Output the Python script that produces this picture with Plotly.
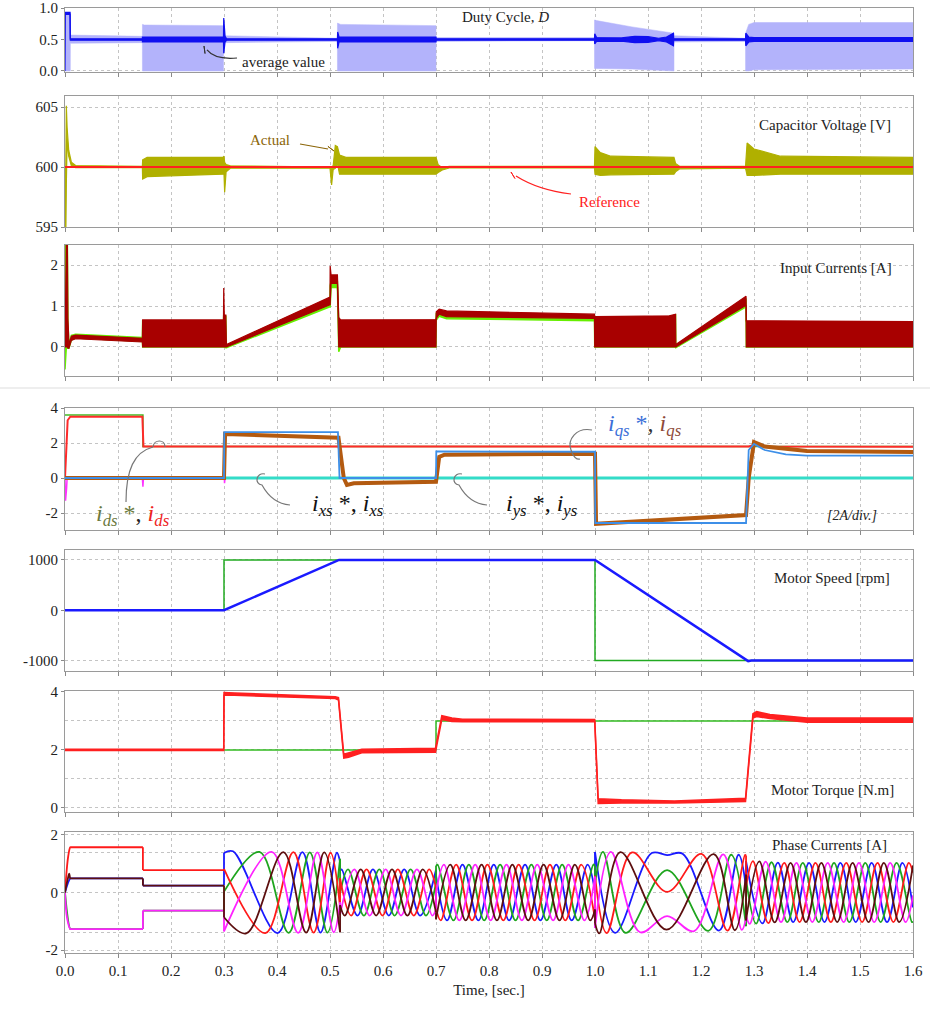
import plotly.graph_objects as go

FONT = "Liberation Serif"

# ---------------- data ----------------
time_ticks = [0.0, 0.1, 0.2, 0.3, 0.4, 0.5, 0.6, 0.7, 0.8, 0.9, 1.0, 1.1, 1.2, 1.3, 1.4, 1.5, 1.6]

# Duty cycle: switching envelope (light) and average value (dark)
duty_env_t  = [0.0, 0.010, 0.0101, 0.146, 0.1461, 0.150, 0.299, 0.2991, 0.514, 0.5141, 0.520, 0.700, 0.7001, 0.999, 0.9991, 1.003, 1.070, 1.149, 1.1491, 1.284, 1.2841, 1.290, 1.300, 1.600]
duty_env_lo = [0.0, 0.0, 0.44, 0.45, 0.0, 0.0, 0.0, 0.45, 0.47, 0.0, 0.0, 0.0, 0.47, 0.48, 0.04, 0.04, 0.03, 0.0, 0.46, 0.47, 0.0, 0.0, 0.02, 0.03]
duty_env_hi = [0.92, 0.92, 0.57, 0.55, 0.74, 0.73, 0.72, 0.56, 0.52, 0.76, 0.74, 0.72, 0.53, 0.53, 0.81, 0.80, 0.70, 0.60, 0.56, 0.52, 0.60, 0.74, 0.77, 0.77]
duty_avg_t  = [0.0, 0.0005, 0.0095, 0.0096, 0.0100, 0.146, 0.1461, 0.299, 0.2995, 0.302, 0.305, 0.514, 0.5145, 0.517, 0.700, 0.7005, 0.999, 0.9995, 1.003, 1.050, 1.075, 1.100, 1.120, 1.135, 1.148, 1.1485, 1.284, 1.2845, 1.290, 1.300, 1.600]
duty_avg_lo = [0.0, 0.90, 0.90, 0.49, 0.49, 0.49, 0.46, 0.46, 0.28, 0.46, 0.49, 0.49, 0.36, 0.46, 0.46, 0.49, 0.49, 0.43, 0.47, 0.475, 0.45, 0.455, 0.48, 0.46, 0.40, 0.49, 0.49, 0.40, 0.46, 0.47, 0.47]
duty_avg_hi = [0.93, 0.93, 0.93, 0.93, 0.51, 0.51, 0.54, 0.54, 0.84, 0.55, 0.51, 0.51, 0.62, 0.54, 0.54, 0.51, 0.51, 0.59, 0.53, 0.525, 0.55, 0.545, 0.52, 0.54, 0.60, 0.51, 0.51, 0.60, 0.54, 0.53, 0.53]

# Capacitor voltage [V]
vc_t  = [0.0, 0.0015, 0.0025, 0.004, 0.007, 0.012, 0.020, 0.146, 0.1465, 0.155, 0.298, 0.300, 0.3012, 0.304, 0.312, 0.500, 0.503, 0.506, 0.510, 0.514, 0.518, 0.530, 0.700, 0.704, 0.712, 0.725, 0.999, 1.000, 1.010, 1.030, 1.149, 1.152, 1.160, 1.284, 1.287, 1.300, 1.350, 1.600]
vc_lo = [600.0, 594.0, 598.5, 602.3, 600.9, 600.1, 599.95, 599.95, 599.0, 599.2, 599.4, 599.4, 597.9, 599.6, 599.9, 599.9, 598.5, 599.8, 599.9, 600.3, 599.4, 599.4, 599.4, 599.55, 599.75, 599.92, 599.92, 599.4, 599.3, 599.35, 599.4, 599.6, 599.85, 599.9, 599.3, 599.3, 599.4, 599.4]
vc_hi = [600.0, 600.0, 605.1, 603.3, 601.4, 600.4, 600.12, 600.05, 600.6, 600.8, 600.8, 600.9, 600.4, 600.2, 600.1, 600.05, 600.0, 600.1, 601.8, 601.7, 601.0, 600.8, 600.8, 600.2, 599.95, 600.05, 600.05, 601.7, 601.2, 600.9, 600.8, 600.3, 600.05, 600.05, 602.0, 601.5, 600.9, 600.8]
vc_ref_t = [0.0, 1.6]
vc_ref   = [600.0, 600.0]

# Input currents [A]: two sources (dark red on top of green)
iin_t   = [0.0, 0.0025, 0.0045, 0.0055, 0.0075, 0.012, 0.020, 0.146, 0.1465, 0.299, 0.2995, 0.3005, 0.3035, 0.3045, 0.500, 0.5003, 0.502, 0.514, 0.5165, 0.520, 0.700, 0.7005, 0.706, 0.720, 0.999, 0.9995, 1.140, 1.152, 1.1525, 1.285, 1.2855, 1.600]
iin1_lo = [0.0, 0.0, 0.0, -0.03, -0.03, 0.16, 0.20, 0.12, 0.0, 0.0, 0.0, 0.0, 0.0, 0.0, 1.03, 1.03, 1.55, 1.55, 0.0, 0.0, 0.0, 0.70, 0.80, 0.74, 0.70, 0.0, 0.0, 0.0, 0.0, 1.02, 0.0, 0.0]
iin1_hi = [0.0, 2.50, 2.50, 0.70, 0.05, 0.26, 0.29, 0.21, 0.66, 0.66, 1.44, 0.78, 0.78, 0.06, 1.22, 1.98, 1.76, 1.76, 0.72, 0.66, 0.67, 0.86, 0.92, 0.88, 0.80, 0.74, 0.76, 0.80, 0.06, 1.24, 0.64, 0.62]
iin2_lo = [-0.55, 0.0, 0.0, -0.03, -0.03, 0.17, 0.22, 0.14, 0.0, 0.0, 0.0, 0.0, -0.02, -0.02, 0.98, 0.98, 1.45, 1.45, -0.12, 0.0, 0.0, 0.66, 0.75, 0.69, 0.64, 0.0, 0.0, 0.0, -0.02, 0.98, 0.0, 0.0]
iin2_hi = [2.50, 2.50, 2.50, 0.60, 0.05, 0.28, 0.31, 0.23, 0.64, 0.64, 0.80, 0.75, 0.75, 0.02, 1.17, 1.50, 1.60, 1.60, 0.60, 0.64, 0.64, 0.82, 0.88, 0.84, 0.76, 0.72, 0.74, 0.78, 0.03, 1.18, 0.62, 0.60]

# d-q-x-y currents [A]
ids_ref_t = [0.0, 0.147, 0.147, 1.6]
ids_ref   = [3.6, 3.6, 1.8, 1.8]
ids_t = [0.0, 0.003, 0.005, 0.010, 0.146, 0.148, 1.290, 1.300, 1.330, 1.600]
ids   = [0.0, 2.5, 3.3, 3.5, 3.5, 1.8, 1.8, 1.88, 1.8, 1.78]
iqs_ref_t = [0.0, 0.300, 0.3005, 0.515, 0.518, 0.700, 0.7005, 1.000, 1.0005, 1.285, 1.290, 1.300, 1.320, 1.360, 1.400, 1.600]
iqs_ref   = [0.0, 0.0, 2.62, 2.62, 0.0, 0.0, 1.52, 1.50, -2.57, -2.57, 1.6, 1.95, 1.6, 1.35, 1.28, 1.28]
iqs_t = [0.0, 0.300, 0.302, 0.510, 0.516, 0.526, 0.532, 0.545, 0.700, 0.706, 0.716, 1.000, 1.002, 1.285, 1.290, 1.300, 1.320, 1.400, 1.600]
iqs   = [0.0, 0.0, 2.52, 2.36, 2.30, 0.0, -0.40, -0.30, -0.22, 1.20, 1.33, 1.38, -2.62, -2.12, 0.0, 2.05, 1.80, 1.55, 1.48]
ixy_t = [0.0, 1.6]
ixy   = [0.0, 0.0]
spike_t = [0.0, 0.001, 0.003, 0.004, 0.146, 0.147, 0.148, 0.299, 0.300, 0.301, 0.302, 0.999, 1.000, 1.001, 1.002, 1.6]
spike   = [0.0, -1.3, -0.6, 0.0, 0.0, -0.5, 0.0, 0.0, 0.9, -0.3, 0.0, 0.0, 0.7, -0.2, 0.0, 0.0]

# Motor speed [rpm]
spd_ref_t = [0.0, 0.3, 0.3, 1.0, 1.0, 1.6]
spd_ref   = [0, 0, 1000, 1000, -1000, -1000]
spd_t = [0.0, 0.300, 0.517, 1.000, 1.289, 1.295, 1.600]
spd   = [0, 0, 1000, 1000, -1012, -1000, -1000]

# Motor torque [N.m]
tq_ref_t = [0.0, 0.7, 0.7, 1.6]
tq_ref   = [2.0, 2.0, 3.0, 3.0]
tq_t  = [0.0, 0.2995, 0.300, 0.320, 0.510, 0.516, 0.526, 0.535, 0.560, 0.699, 0.711, 0.730, 0.750, 0.9995, 1.006, 1.050, 1.150, 1.284, 1.298, 1.305, 1.330, 1.400, 1.600]
tq_lo = [1.98, 1.98, 3.88, 3.88, 3.77, 3.72, 1.72, 1.75, 1.90, 1.92, 3.05, 2.98, 2.97, 2.97, 0.15, 0.17, 0.17, 0.22, 3.10, 3.15, 3.08, 2.95, 2.95]
tq_hi = [2.02, 2.02, 3.98, 3.96, 3.83, 3.80, 1.85, 1.90, 2.02, 2.06, 3.18, 3.10, 3.06, 3.05, 0.32, 0.28, 0.24, 0.33, 3.25, 3.32, 3.22, 3.10, 3.10]

# Phase currents [A]: peaks/troughs of each phase, time in ms (None = step between intervals)
ia_ms = [0, 6, 10, 12, 147, None, 147, 300, None, 300, 378, 431, 469, 501, 519, None, 519, 540, 569, 599, 628, 658, 687, 700, None, 700, 709, 738, 768, 797, 827, 856, 886, 915, 944, 974, 1000, None, 1000, 1022, 1070, 1136, 1201, 1250, 1283, 1285, None, 1285, 1298, 1327, 1357, 1386, 1416, 1445, 1474, 1504, 1533, 1563, 1592, 1600]
ia    = [0, 1.25, 1.57, 1.57, 1.57, None, 0.78, 0.78, None, 0.82, -1.41, 1.40, -1.39, 1.38, -0.51, None, 0.50, -0.80, 0.80, -0.80, 0.80, -0.80, 0.80, 0.16, None, -0.55, -0.97, 0.97, -0.97, 0.97, -0.97, 0.97, -0.97, 0.97, -0.97, 0.97, -0.92, None, 0.58, -1.41, 1.39, 0.02, 1.34, -1.32, 1.30, 1.28, None, 0.20, 1.09, -1.06, 1.03, -1.03, 1.03, -1.03, 1.03, -1.03, 1.03, -1.03, 1.03, 0.69]
ib_ms = [0, 10, 12, 147, None, 147, 300, None, 300, 317, 401, 448, 482, 513, 519, None, 519, 522, 552, 581, 611, 640, 670, 700, None, 700, 721, 750, 780, 809, 838, 868, 897, 927, 956, 986, 1000, None, 1000, 1038, 1107, 1136, 1165, 1234, 1271, 1285, None, 1285, 1316, 1345, 1374, 1404, 1433, 1463, 1492, 1522, 1551, 1580, 1600]
ib    = [0, 0.49, 0.49, 0.49, None, 0.24, 0.24, None, 1.37, 1.43, -1.41, 1.40, -1.39, 1.38, 1.06, None, 0.75, 0.80, -0.80, 0.80, -0.80, 0.80, -0.80, 0.79, None, 0.59, -0.97, 0.97, -0.97, 0.97, -0.97, 0.97, -0.97, 0.97, -0.97, 0.97, 0.02, None, 1.41, -1.40, 1.37, 1.30, 1.35, -1.32, 1.31, 0.17, None, 1.09, -1.07, 1.04, -1.03, 1.03, -1.03, 1.03, -1.03, 1.03, -1.03, 1.03, -0.52]
ic_ms = [0, 10, 12, 147, None, 147, 300, None, 300, 367, 422, 462, 495, 519, None, 519, 534, 564, 593, 622, 652, 681, 700, None, 700, 703, 733, 762, 791, 821, 850, 880, 909, 938, 968, 997, 1000, None, 1000, 1015, 1058, 1136, 1214, 1257, 1285, None, 1285, 1304, 1333, 1363, 1392, 1422, 1451, 1480, 1510, 1539, 1569, 1598, 1600]
ic    = [0, -1.27, -1.27, -1.27, None, -0.63, -0.63, None, 0.03, 1.41, -1.40, 1.39, -1.39, 1.17, None, -0.04, 0.80, -0.80, 0.80, -0.80, 0.80, -0.80, 0.33, None, 0.92, 0.97, -0.97, 0.97, -0.97, 0.97, -0.97, 0.97, -0.97, 0.97, -0.97, 0.97, 0.93, None, 0.30, 1.41, -1.40, 0.78, -1.33, 1.31, -1.17, None, 0.47, -1.08, 1.05, -1.03, 1.03, -1.03, 1.03, -1.03, 1.03, -1.03, 1.03, -1.03, -1.01]
id_ms = [0, 4, 10, 12, 147, None, 147, 300, None, 300, 390, 440, 476, 507, 519, None, 519, 546, 575, 605, 634, 664, 693, 700, None, 700, 715, 744, 774, 803, 833, 862, 891, 921, 950, 980, 1000, None, 1000, 1030, 1085, 1136, 1187, 1242, 1277, 1285, None, 1285, 1292, 1322, 1351, 1380, 1410, 1439, 1469, 1498, 1527, 1557, 1586, 1600]
id_   = [0, -0.9, -1.27, -1.27, -1.27, None, -0.63, -0.63, None, -1.35, 1.41, -1.40, 1.39, -1.38, -0.34, None, -0.77, 0.80, -0.80, 0.80, -0.80, 0.80, -0.80, -0.59, None, -0.02, 0.97, -0.97, 0.97, -0.97, 0.97, -0.97, 0.97, -0.97, 0.97, -0.97, 0.55, None, -1.23, 1.41, -1.38, -0.82, -1.34, 1.32, -1.30, -0.89, None, -0.80, -1.09, 1.07, -1.03, 1.03, -1.03, 1.03, -1.03, 1.03, -1.03, 1.03, -1.03, -0.10]
ie_ms = [0, 5, 8, 10, 12, 147, None, 147, 300, None, 300, 342, 412, 455, 489, 519, None, 519, 528, 558, 587, 617, 646, 675, 700, None, 700, 727, 756, 786, 815, 844, 874, 903, 933, 962, 991, 1000, None, 1000, 1008, 1048, 1135, 1224, 1264, 1285, None, 1285, 1310, 1339, 1369, 1398, 1427, 1457, 1486, 1516, 1545, 1574, 1600]
ie    = [0, 0.45, 0.65, 0.49, 0.49, 0.49, None, 0.24, 0.24, None, -0.86, -1.42, 1.40, -1.39, 1.39, -1.38, None, -0.44, -0.80, 0.80, -0.80, 0.80, -0.80, 0.80, -0.70, None, -0.93, 0.97, -0.97, 0.97, -0.97, 0.97, -0.97, 0.97, -0.97, 0.97, -0.97, -0.59, None, -1.06, -1.42, 1.40, -1.29, 1.33, -1.31, 0.62, None, -0.97, 1.08, -1.04, 1.03, -1.03, 1.03, -1.03, 1.03, -1.03, 1.03, -1.03, 0.94]

# ---------------- geometry (window pixels) ----------------
W, H = 930, 1011
ML, MR, MT, MB = 65, 17, 8, 58
panel_px = [(8, 72), (96, 227), (245, 376), (408, 530), (550, 671), (691, 812), (832, 953)]
y_ranges = [[-0.016, 1.0], [595, 605.92], [-0.71, 2.49], [-2.97, 4.0], [-1208, 1198], [-0.14, 4.03], [-2.1, 2.1]]
y_ticks = [([0, 0.5, 1.0], ['0.0', '0.5', '1.0'], []),
           ([595, 600, 605], ['595', '600', '605'], []),
           ([0, 1, 2], ['0', '1', '2'], []),
           ([-2, 0, 2, 4], ['-2', '0', '2', '4'], []),
           ([-1000, 0, 1000], ['-1000', '0', '1000'], []),
           ([0, 2, 4], ['0', '2', '4'], [1, 3]),
           ([-2, 0, 2], ['-2', '0', '2'], [-1.4, 1.4])]

PW = W - ML - MR
PH = H - MT - MB


def px(x, y):
    return (x - ML) / PW, (H - MB - y) / PH


fig = go.Figure()


def ax_names(k):
    return ('x', 'y') if k == 1 else (f'x{k}', f'y{k}')


def line(k, t, v, color, width, shape='linear'):
    xa, ya = ax_names(k)
    fig.add_trace(go.Scatter(x=t, y=v, mode='lines', line=dict(color=color, width=width, shape=shape),
                             xaxis=xa, yaxis=ya, hoverinfo='skip', showlegend=False))


def band(k, t, lo, hi, fill, edge, width):
    xa, ya = ax_names(k)
    fig.add_trace(go.Scatter(x=t, y=lo, mode='lines', line=dict(color=edge, width=width),
                             xaxis=xa, yaxis=ya, hoverinfo='skip', showlegend=False))
    fig.add_trace(go.Scatter(x=t, y=hi, mode='lines', fill='tonexty', fillcolor=fill,
                             line=dict(color=edge, width=width),
                             xaxis=xa, yaxis=ya, hoverinfo='skip', showlegend=False))


def phase(ms, vals, color):
    t = [None if m is None else m / 1000 for m in ms]
    # smooth waveform inside each interval
    line(7, t, vals, color, 1.8, shape='spline')
    # vertical steps joining consecutive intervals
    jx, jy = [], []
    for i, m in enumerate(ms):
        if m is None:
            jx += [t[i - 1], t[i + 1], None]
            jy += [vals[i - 1], vals[i + 1], None]
    line(7, jx, jy, color, 1.8)


# panel 1: duty
band(1, duty_env_t, duty_env_lo, duty_env_hi, '#b3b3fb', '#b3b3fb', 0.5)
band(1, duty_avg_t, duty_avg_lo, duty_avg_hi, '#1010f0', '#1010f0', 1.2)
# panel 2: capacitor
band(2, vc_t, vc_lo, vc_hi, '#b0b000', '#b0b000', 1.2)
line(2, vc_ref_t, vc_ref, '#ff2020', 2)
# panel 3: input currents
band(3, iin_t, iin2_lo, iin2_hi, '#66ee00', '#66ee00', 1.5)
band(3, iin_t, iin1_lo, iin1_hi, '#a80000', '#a80000', 1.2)
# panel 4: dq currents
line(4, spike_t, spike, '#ff33ff', 1.5)
line(4, ixy_t, ixy, '#33dcc8', 3)
line(4, ids_ref_t, ids_ref, '#44bb22', 1.5)
line(4, ids_t, ids, '#ff2a2a', 2)
line(4, iqs_t, iqs, '#b35a10', 4)
line(4, iqs_ref_t, iqs_ref, '#3d8fe8', 1.8)
# panel 5: speed
line(5, spd_ref_t, spd_ref, '#22aa22', 1.5)
line(5, spd_t, spd, '#1a1aff', 2.5)
# panel 6: torque
line(6, tq_ref_t, tq_ref, '#33bb22', 1.5)
band(6, tq_t, tq_lo, tq_hi, '#ff2020', '#ff2020', 1.5)
# panel 7: phase currents
phase(ib_ms, ib, '#1a1aff')
phase(ic_ms, ic, '#1ea51e')
phase(ia_ms, ia, '#ff1a1a')
phase(id_ms, id_, '#ff22ff')
phase(ie_ms, ie, '#5c0f0f')

# ---------------- axes ----------------
layout = dict(width=W, height=H, margin=dict(l=ML, r=MR, t=MT, b=MB),
              paper_bgcolor='white', plot_bgcolor='white', showlegend=False,
              font=dict(family=FONT, size=15, color='#222'))
for k in range(1, 8):
    top, bot = panel_px[k - 1]
    dom = [(H - MB - bot) / PH, (H - MB - top) / PH]
    xa, ya = ax_names(k)
    xkey = 'xaxis' if k == 1 else f'xaxis{k}'
    ykey = 'yaxis' if k == 1 else f'yaxis{k}'
    layout[xkey] = dict(domain=[0, 1], range=[0, 1.6], tickvals=time_ticks, tickformat='.1f',
                        showgrid=True, gridcolor='#c4c4c4', griddash='dot', gridwidth=1,
                        showline=True, mirror=True, linecolor='#9a9a9a', linewidth=1,
                        ticks='outside', ticklen=4, tickcolor='#8a8a8a',
                        showticklabels=(k == 7), zeroline=False, anchor=ya,
                        tickfont=dict(size=15), automargin=False)
    if k > 1:
        layout[xkey]['matches'] = 'x'
    tv, tx, minor = y_ticks[k - 1]
    layout[ykey] = dict(domain=dom, range=y_ranges[k - 1], tickvals=tv, ticktext=tx,
                        showgrid=True, gridcolor='#c4c4c4', griddash='dot', gridwidth=1,
                        showline=True, mirror=True, linecolor='#9a9a9a', linewidth=1,
                        ticks='outside', ticklen=3, tickcolor='#8a8a8a', zeroline=False,
                        anchor=xa, tickfont=dict(size=15), automargin=False)
    if minor:
        layout[ykey]['minor'] = dict(tickvals=minor, showgrid=True, gridcolor='#c4c4c4',
                                     griddash='dot', gridwidth=1, ticks='')
layout['xaxis7']['title'] = dict(text='Time, [sec.]', font=dict(size=15), standoff=6)
fig.update_layout(**layout)

# ---------------- text & decorations ----------------
ann = []
shapes = []


def text(x, y, s, size=15, color='#222', xanchor='center'):
    X, Y = px(x, y)
    ann.append(dict(x=X, y=Y, xref='paper', yref='paper', text=s, showarrow=False,
                    font=dict(family=FONT, size=size, color=color), xanchor=xanchor, yanchor='middle'))


def path(points, color, width=1.2, fill=None):
    s = ''
    for cmd, pts in points:
        s += cmd + ' ' + ' '.join('%.5f,%.5f' % px(x, y) for x, y in pts) + ' '
    d = dict(type='path', path=s.strip(), xref='paper', yref='paper',
             line=dict(color=color, width=width))
    if fill:
        d['path'] += ' Z'
        d['fillcolor'] = fill
    shapes.append(d)


def arrowhead(x, y, dx, dy, color, L=7, w=3):
    n = (dx * dx + dy * dy) ** 0.5
    ux, uy = dx / n, dy / n
    bx, by = x + ux * L, y + uy * L
    p1 = (bx - uy * w, by + ux * w)
    p2 = (bx + uy * w, by - ux * w)
    path([('M', [(x, y)]), ('L', [p1, p2])], color, 1, fill=color)


text(505, 17, 'Duty Cycle, <i>D</i>')
text(283, 62, 'average value')
path([('M', [(237, 58)]), ('Q', [(215, 60), (207, 50)])], '#333')
arrowhead(204, 46, 3, 5, '#333')

text(825, 125, 'Capacitor Voltage [V]')
text(270, 140, 'Actual', color='#8b6508')
path([('M', [(300, 144)]), ('L', [(328, 149)])], '#8b6508')
arrowhead(334, 151, -6, -1.5, '#8b6508')
text(609, 202, 'Reference', color='#ff2020')
path([('M', [(571, 194)]), ('Q', [(538, 190), (516, 176)])], '#ff2020')
arrowhead(511, 172, 7, 5, '#ff2020')

text(836, 268, 'Input Currents [A]')

text(133, 515, '<span style="color:#6b7a3e"><i>i<sub>ds</sub></i> *</span>, <span style="color:#ee2222"><i>i<sub>ds</sub></i></span>', size=24)
text(348, 505, '<i>i<sub>xs</sub></i> *, <i>i<sub>xs</sub></i>', size=24, color='#111')
text(542, 505, '<i>i<sub>ys</sub></i> *, <i>i<sub>ys</sub></i>', size=24, color='#111')
text(645, 425, '<span style="color:#3b6fd8"><i>i<sub>qs</sub></i> *</span><span style="color:#333">, </span><span style="color:#8e4a3a"><i>i<sub>qs</sub></i></span>', size=24)
text(852, 515, '<i>[2A/div.]</i>', size=14)
grey = '#777'
path([('M', [(126, 502)]), ('C', [(126, 470), (134, 452), (153, 447)])], grey)
path([('M', [(153, 447)]), ('C', [(154, 439), (165, 439), (165, 447)])], grey)
path([('M', [(265, 474)]), ('C', [(256, 472), (254, 484), (262, 485)]), ('C', [(268, 496), (278, 504), (290, 505)])], grey)
path([('M', [(462, 474)]), ('C', [(453, 472), (451, 484), (459, 485)]), ('C', [(465, 496), (475, 504), (487, 505)])], grey)
path([('M', [(592, 430)]), ('C', [(576, 427), (567, 440), (571, 450)]), ('C', [(573, 457), (577, 460), (580, 459)])], grey)

text(832, 578, 'Motor Speed [rpm]')
text(832, 790, 'Motor Torque [N.m]')
text(829, 845, 'Phase Currents [A]')

# separator between the two figure halves
shapes.append(dict(type='line', xref='paper', yref='paper', x0=-ML / PW, x1=1 + MR / PW,
                   y0=px(0, 388)[1], y1=px(0, 388)[1], line=dict(color='#dddddd', width=1)))

fig.update_layout(annotations=ann, shapes=shapes)
fig.write_html('out.html', config={'displayModeBar': False},
               post_script="document.body.style.margin='0px';document.body.style.overflow='hidden';")
